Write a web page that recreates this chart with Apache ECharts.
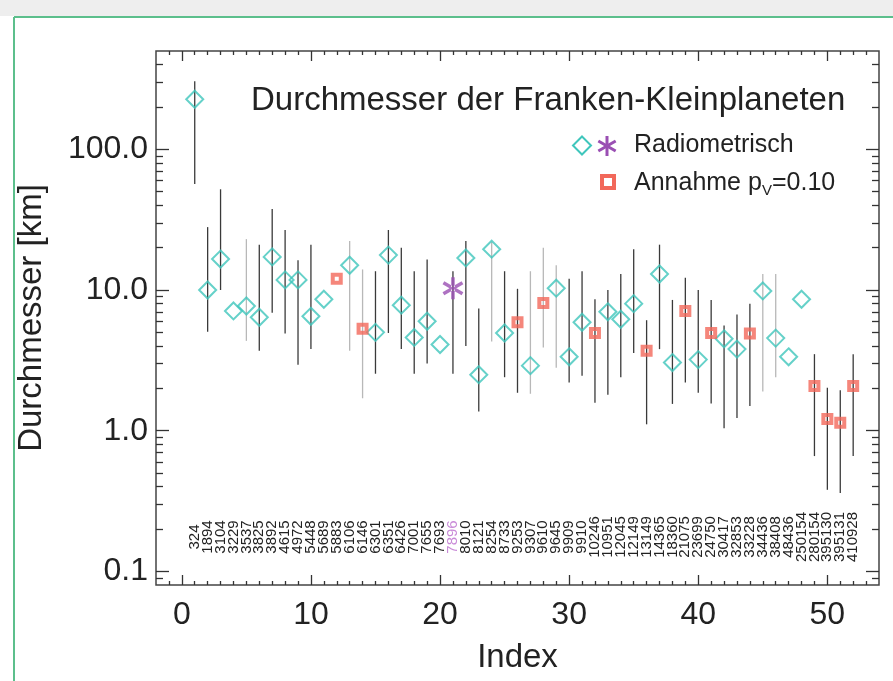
<!DOCTYPE html>
<html><head><meta charset="utf-8">
<script src="https://cdn.jsdelivr.net/npm/echarts@6/dist/echarts.min.js"></script>
<style>html,body{margin:0;padding:0;background:#fff}#c{width:893px;height:681px}</style>
</head><body><div id="c"></div>
<script>
// ---------- data ----------
const indices = [1,2,3,4,5,6,7,8,9,10,11,12,13,14,15,16,17,18,19,20,21,22,23,24,25,26,
                 27,28,29,30,31,32,33,34,35,36,37,38,39,40,41,42,43,44,45,46,47,48,49,50,51,52];
const asteroidLabels = ['324','1894','3104','3229','3537','3825','3892','4615','4972','5448','5689','5883',
  '6106','6146','6301','6351','6426','7001','7655','7693','7896','8010','8121','8254','8733','9253',
  '9307','9610','9645','9909','9910','10246','10951','12045','12149','13149','14365','18360','21075',
  '23699','24750','30417','32853','33228','34436','38408','48436','250154','280154','395130','395131','410928'];
// method: R = radiometric (diamond), T = radiometric (asterisk), A = assumed albedo pV=0.10
const methods = ['R','R','R','R','R','R','R','R','R','R','R','A','R','A','R','R','R','R','R','R','T','R',
  'R','R','R','A','R','A','R','R','R','A','R','R','R','A','R','R','A','R','A','R','R','A','R','R','R','R',
  'A','A','A','A'];
const diameters = [227,10.0,16.6,7.1,7.7,6.4,17.2,11.8,11.8,6.5,8.6,12.0,15.0,5.3,5.0,17.7,7.8,4.6,6.0,4.1,
  10.3,16.9,2.5,19.5,4.95,5.9,2.9,8.1,10.3,3.35,5.9,4.95,7.0,6.2,8.0,3.7,13.0,3.05,7.1,3.2,4.95,4.5,3.8,
  4.9,9.85,4.55,3.35,8.6,2.08,1.21,1.14,2.08];
const errLow  = [56.7,5.05,10,null,4.35,3.7,6.9,4.9,2.94,3.8,null,null,3.7,1.7,2.54,4.95,3.8,2.54,3.0,null,
  2.54,4.0,1.37,4.3,2.4,1.86,1.83,3.9,2.8,2.2,2.46,1.58,1.8,2.4,3.56,1.11,3.8,1.55,2.2,1.86,1.56,1.04,1.23,
  1.5,1.9,2.4,null,null,0.66,0.38,0.36,0.66];
const errHigh = [305,28,52,null,23,21,37.6,26.7,16.3,21,null,null,22.3,14,13.6,26.7,20,13.6,16.5,null,
  13.6,22.3,7.4,22,13.6,10.2,13.6,20,15,12,13.6,8.6,10,13,19.5,6.1,21,8.5,12.2,10,8.5,5.6,6.7,
  8,13,13,null,null,3.5,2.02,1.94,3.5];
const yTickLabels = [0.1, 1, 10, 100];
const xTickLabels = [0, 10, 20, 30, 40, 50];

// ---------- styling constants ----------
const FONT = 'Liberation Sans, Arial, Helvetica, sans-serif';
const C_DIAM = '#3fc6bc', C_RED = '#f2685a', C_PUR = '#9a4fb3', C_AX = '#333';
const faintBars = [5, 13, 14, 24, 27, 28, 29, 45, 46];
const ASTER = 'path://M-1.6,-10L1.6,-10L1.6,10L-1.6,10Z M7.86,6.39L9.46,3.61L-7.86,-6.39L-9.46,-3.61Z M-9.46,3.61L-7.86,6.39L9.46,-3.61L7.86,-6.39Z';

const xMinor = [], yMinor = [];
for (let i = -1; i <= 53; i++) if (i % 10 !== 0) xMinor.push(i);
[0.1, 1, 10, 100].forEach(d => { for (let k = 2; k <= 9; k++) if (d * k < 500) yMinor.push(+(d * k).toPrecision(3)); });
yMinor.push(0.09);

const XMIN = -2, XMAX = 54, YMIN = 0.08, YMAX = 500;

function xAx(pos, ticks, len, labels) {
  return {
    type: 'value', position: pos, min: XMIN, max: XMAX, gridIndex: 0,
    axisLine: { show: false, onZero: false }, splitLine: { show: false },
    axisTick: { show: true, inside: true, length: len, customValues: ticks, lineStyle: { color: C_AX, width: 1.3 } },
    axisLabel: labels ? { show: true, customValues: xTickLabels, fontSize: 32, color: '#222', fontFamily: FONT, margin: 14 } : { show: false }
  };
}
function yAx(pos, ticks, len, labels) {
  return {
    type: 'log', logBase: 10, position: pos, min: YMIN, max: YMAX, gridIndex: 0,
    axisLine: { show: false, onZero: false }, splitLine: { show: false }, minorTick: { show: false },
    axisTick: { show: true, inside: true, length: len, customValues: ticks, lineStyle: { color: C_AX, width: 1.3 } },
    axisLabel: labels ? { show: true, customValues: yTickLabels, fontSize: 32, color: '#222', fontFamily: FONT, margin: 8,
      formatter: v => Number(v).toFixed(1) } : { show: false }
  };
}

const xAxes = [xAx('bottom', xTickLabels, 10, true), xAx('bottom', xMinor, 4, false),
               xAx('top', xTickLabels, 10, false), xAx('top', xMinor, 4, false)];
xAxes[0].name = 'Index';
xAxes[0].nameLocation = 'middle';
xAxes[0].nameGap = 56;
xAxes[0].nameTextStyle = { fontSize: 33, color: '#222', fontFamily: FONT };
const yAxes = [yAx('left', yTickLabels, 13, true), yAx('left', yMinor, 7, false),
               yAx('right', yTickLabels, 13, false), yAx('right', yMinor, 7, false)];
yAxes[0].name = 'Durchmesser [km]';
yAxes[0].nameLocation = 'middle';
yAxes[0].nameGap = 108;
yAxes[0].nameTextStyle = { fontSize: 33, color: '#222', fontFamily: FONT };

const pts = m => indices.map((x, k) => methods[k] === m ? [x, diameters[k]] : null).filter(Boolean);
const bars = indices.map((x, k) => errLow[k] != null ? [x, errLow[k], errHigh[k]] : null).filter(Boolean);

// asterisk for legend as three bars
function bar(cx, cy, ang, L, W) {
  const c = Math.cos(ang), s = Math.sin(ang);
  const ax = L * c, ay = L * s, wx = -W * s, wy = W * c;
  return [[cx + ax + wx, cy + ay + wy], [cx + ax - wx, cy + ay - wy], [cx - ax - wx, cy - ay - wy], [cx - ax + wx, cy - ay + wy]];
}
const legAster = [Math.PI / 2, Math.PI / 6, 5 * Math.PI / 6].map(a => ({
  type: 'polygon', shape: { points: bar(607, 146, a, 10, 1.5) }, style: { fill: C_PUR } }));

const chart = echarts.init(document.getElementById('c'), null, { renderer: 'canvas' });
chart.setOption({
  backgroundColor: '#fff',
  animation: false,
  title: { text: 'Durchmesser der Franken-Kleinplaneten', left: 246, top: 79,
    textStyle: { fontSize: 33, fontWeight: 'normal', color: '#222', fontFamily: FONT } },
  grid: { left: 156, right: 14, top: 51, bottom: 96, show: true, borderColor: '#444', borderWidth: 1.5, backgroundColor: 'transparent' },
  xAxis: xAxes,
  yAxis: yAxes,
  series: [
    { type: 'custom', name: 'err', xAxisIndex: 0, yAxisIndex: 0, data: bars, z: 2,
      encode: { x: 0, y: [1, 2] },
      renderItem(params, api) {
        const x = api.value(0);
        const p1 = api.coord([x, api.value(1)]), p2 = api.coord([x, api.value(2)]);
        const faint = faintBars.indexOf(x) >= 0;
        return { type: 'line', shape: { x1: p1[0], y1: p1[1], x2: p2[0], y2: p2[1] },
          style: { stroke: faint ? '#b8b8b8' : '#3a3a3a', lineWidth: 1.3 } };
      } },
    { type: 'custom', name: 'labels', xAxisIndex: 0, yAxisIndex: 0, z: 3,
      data: indices.map((x, k) => [x, 1, k]),
      renderItem(params, api) {
        const k = api.value(2);
        const p = api.coord([api.value(0), 1]);
        return { type: 'text', x: p[0], y: 537, rotation: Math.PI / 2,
          style: { text: asteroidLabels[k], textAlign: 'center', textVerticalAlign: 'middle',
            font: '15px ' + FONT, fill: methods[k] === 'T' ? '#c98ad8' : '#222' } };
      } },
    { type: 'scatter', name: 'Radiometrisch', data: pts('R'), symbol: 'diamond', symbolSize: 17, z: 5,
      itemStyle: { color: 'transparent', borderColor: C_DIAM, borderWidth: 2 } },
    { type: 'scatter', name: 'Radiometrisch*', data: pts('T'), symbol: ASTER, symbolSize: 22, symbolKeepAspect: true, z: 5,
      itemStyle: { color: C_PUR } },
    { type: 'scatter', name: 'Annahme', data: pts('A'), symbol: 'rect', symbolSize: 8, z: 5,
      itemStyle: { color: 'transparent', borderColor: C_RED, borderWidth: 4 } }
  ],
  graphic: [
    { type: 'rect', shape: { x: 0, y: 0, width: 893, height: 16 }, style: { fill: '#eeeeee' }, silent: true },
    { type: 'line', shape: { x1: 14, y1: 17, x2: 893, y2: 17 }, style: { stroke: '#5cbf8c', lineWidth: 2 } },
    { type: 'line', shape: { x1: 14, y1: 17, x2: 14, y2: 681 }, style: { stroke: '#5cbf8c', lineWidth: 2 } },
    { type: 'polygon', shape: { points: [[582, 136.5], [591, 145.5], [582, 154.5], [573, 145.5]] }, style: { fill: 'none', stroke: C_DIAM, lineWidth: 2 } },
    ...legAster,
    { type: 'text', x: 634, y: 145, style: { text: 'Radiometrisch', font: '25px ' + FONT, fill: '#222', textVerticalAlign: 'middle' } },
    { type: 'rect', shape: { x: 602, y: 176, width: 12, height: 12 }, style: { fill: 'none', stroke: C_RED, lineWidth: 4 } },
    { type: 'text', x: 634, y: 183, style: { text: 'Annahme p', font: '25px ' + FONT, fill: '#222', textVerticalAlign: 'middle' } },
    { type: 'text', x: 762, y: 191, style: { text: 'V', font: '15px ' + FONT, fill: '#222', textVerticalAlign: 'middle' } },
    { type: 'text', x: 772, y: 183, style: { text: '=0.10', font: '25px ' + FONT, fill: '#222', textVerticalAlign: 'middle' } }
  ]
});
</script></body></html>
